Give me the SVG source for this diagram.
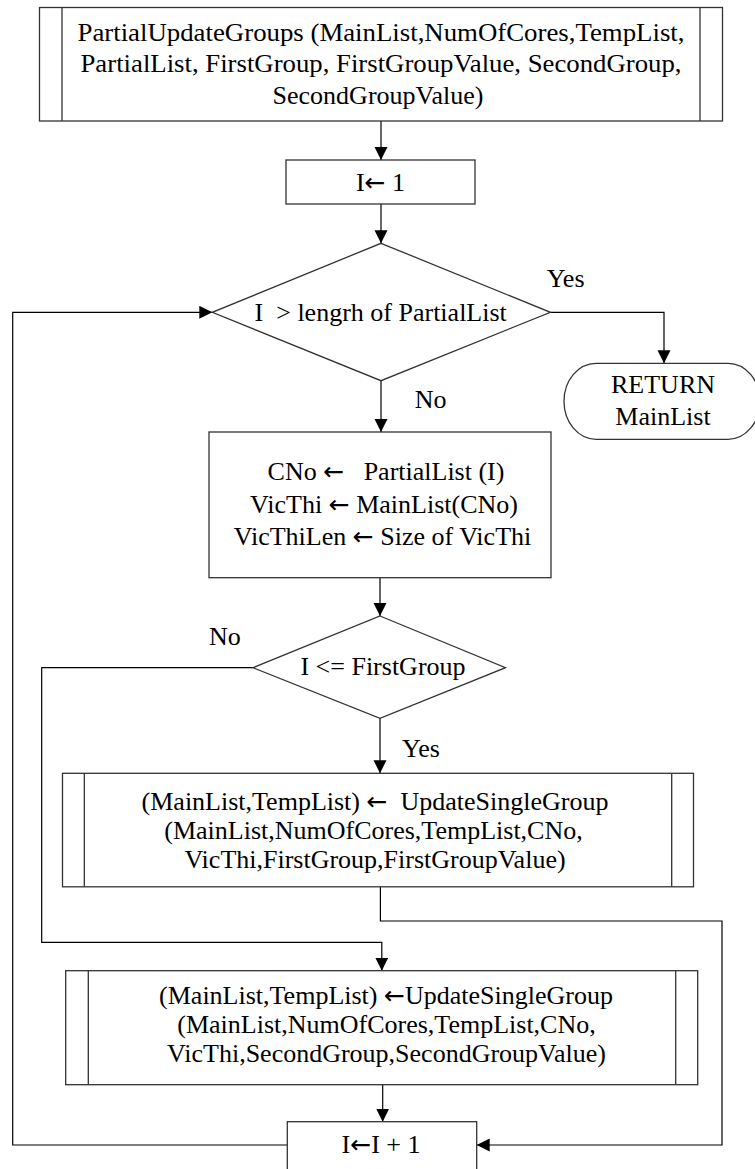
<svg xmlns="http://www.w3.org/2000/svg" width="755" height="1169" viewBox="0 0 755 1169">
<style>
  .box { fill: #fff; stroke: #333; stroke-width: 1.3; }
  .inner { fill: none; stroke: #333; stroke-width: 1.3; }
  .conn { fill: none; stroke: #000; stroke-width: 1.2; marker-end: url(#arrow); }
  text { font-family: "Liberation Serif", "Times New Roman", "DejaVu Serif", serif; font-size: 26px; fill: #000; }
  .c { text-anchor: middle; }
  .ar { font-family: "DejaVu Sans", sans-serif; font-size: 25px; }
</style>
<defs>
  <marker id="arrow" markerUnits="userSpaceOnUse" markerWidth="14" markerHeight="14" refX="13" refY="6.5" orient="auto">
    <path d="M0,0 L13,6.5 L0,13 Z" fill="#000"/>
  </marker>
</defs>
<rect width="755" height="1169" fill="#fff"/>

<g id="connectors">
  <path class="conn" d="M381,121 V160"/>
  <path class="conn" d="M381,204 V243.3"/>
  <path class="conn" d="M550.4,312.3 H664 V363.3"/>
  <path class="conn" d="M381,380.7 V432"/>
  <path class="conn" d="M380,577.7 V616"/>
  <path class="conn" d="M380,718.3 V773.3"/>
  <path class="conn" d="M253,667.7 H41.7 V942.3 H381.8 V970.7"/>
  <path class="conn" d="M380.4,887 V921 H722 V1145 H476.7"/>
  <path class="conn" d="M382.7,1085 V1121.7"/>
  <path class="conn" d="M287.3,1145 H12.7 V312.3 H212.3"/>
  <text x="546.7" y="286.7">Yes</text>
  <text x="414.7" y="408">No</text>
  <text x="209" y="645">No</text>
  <text x="402" y="756.7">Yes</text>
</g>

<g id="start">
  <rect class="box" x="39.5" y="7.5" width="683" height="113.5"/>
  <path class="inner" d="M62,7.5 V121 M700,7.5 V121"/>
  <text class="c" x="381" y="40.7" textLength="607" lengthAdjust="spacingAndGlyphs">PartialUpdateGroups (MainList,NumOfCores,TempList,</text>
  <text class="c" x="381" y="72.3" textLength="601" lengthAdjust="spacingAndGlyphs">PartialList, FirstGroup, FirstGroupValue, SecondGroup,</text>
  <text class="c" x="378" y="104">SecondGroupValue)</text>
</g>

<g id="init">
  <rect class="box" x="286" y="160" width="189" height="44"/>
  <text class="c" x="380.5" y="191">I<tspan class="ar">←</tspan>  1</text>
</g>

<g id="check-end">
  <polygon class="box" points="381,243.3 550.4,312.3 381,380.7 212.3,312.3"/>
  <text class="c" x="380.7" y="320.7" xml:space="preserve">I  &gt; lengrh of PartialList</text>
</g>

<g id="return">
  <rect class="box" x="564" y="363.3" width="196" height="76" rx="32" ry="38"/>
  <text class="c" x="663" y="393">RETURN</text>
  <text class="c" x="663" y="425">MainList</text>
</g>

<g id="assign">
  <rect class="box" x="209" y="432" width="342" height="145.7"/>
  <text class="c" x="386" y="480" xml:space="preserve">CNo <tspan class="ar">←</tspan>   PartialList (I)</text>
  <text class="c" x="384" y="513" xml:space="preserve">VicThi <tspan class="ar">←</tspan> MainList(CNo)</text>
  <text class="c" x="382.5" y="545" xml:space="preserve">VicThiLen <tspan class="ar">←</tspan> Size of VicThi</text>
</g>

<g id="check-first">
  <polygon class="box" points="380,616 505.5,667.7 380,718.3 253,667.7"/>
  <text class="c" x="383" y="675">I &lt;= FirstGroup</text>
</g>

<g id="update-first">
  <rect class="box" x="62.5" y="773.3" width="631" height="113.5"/>
  <path class="inner" d="M84.3,773.3 V886.8 M671.7,773.3 V886.8"/>
  <text class="c" x="375" y="810" xml:space="preserve">(MainList,TempList) <tspan class="ar">←</tspan>  UpdateSingleGroup</text>
  <text class="c" x="373.5" y="839">(MainList,NumOfCores,TempList,CNo,</text>
  <text class="c" x="375" y="868">VicThi,FirstGroup,FirstGroupValue)</text>
</g>

<g id="update-second">
  <rect class="box" x="65.7" y="970.7" width="632" height="114"/>
  <path class="inner" d="M88.3,970.7 V1084.7 M675.7,970.7 V1084.7"/>
  <text class="c" x="386" y="1004" xml:space="preserve">(MainList,TempList) <tspan class="ar">←</tspan>UpdateSingleGroup</text>
  <text class="c" x="386.5" y="1033">(MainList,NumOfCores,TempList,CNo,</text>
  <text class="c" x="386.5" y="1062">VicThi,SecondGroup,SecondGroupValue)</text>
</g>

<g id="increment">
  <rect class="box" x="287.3" y="1121.7" width="189.4" height="60"/>
  <text class="c" x="381" y="1153" xml:space="preserve">I<tspan class="ar">←</tspan>I + 1</text>
</g>
</svg>
